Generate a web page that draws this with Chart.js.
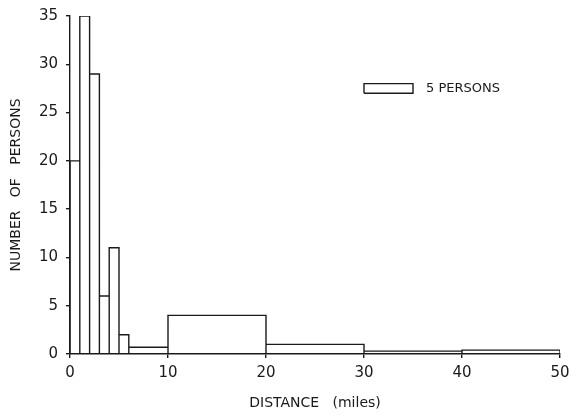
<!DOCTYPE html>
<html>
<head>
<meta charset="utf-8">
<script src="https://cdn.jsdelivr.net/npm/chart.js@4"></script>
<style>
  html, body { margin: 0; padding: 0; background: #fff; }
  #wrap { width: 571px; height: 416px; }
</style>
</head>
<body>
<div id="wrap"><canvas id="myChart"></canvas></div>
<script>
// bin edges (miles) and bar heights (persons per mile)
var binEdges = [0, 1, 2, 3, 4, 5, 6, 10, 20, 30, 40, 50];
var heights = [20, 35, 29, 6, 11, 2, 0.7, 4, 1, 0.3, 0.4];
var xTicks = [0, 10, 20, 30, 40, 50];
var yTicks = [0, 5, 10, 15, 20, 25, 30, 35];
// scale key: box 5 miles wide, 1 unit high
var keyX = [30, 35];
var keyY = [27, 28];
var keyLabel = '5 PERSONS';

var ink = '#1a1a1a';
var font = "'DejaVu Sans', sans-serif";

// outline of each bar as a run of points
var histPoints = [];
for (var i = 0; i < heights.length; i++) {
    var x0 = binEdges[i], x1 = binEdges[i + 1], h = heights[i];
    histPoints.push({x: x0, y: 0}, {x: x0, y: h}, {x: x1, y: h}, {x: x1, y: 0});
}
var keyPoints = [
    {x: keyX[0], y: keyY[0]}, {x: keyX[0], y: keyY[1]},
    {x: keyX[1], y: keyY[1]}, {x: keyX[1], y: keyY[0]},
    {x: keyX[0], y: keyY[0]}
];

var keyText = {
    id: 'keyText',
    afterDatasetsDraw: function(chart) {
        var c = chart.ctx;
        var xs = chart.scales.x, ys = chart.scales.y;
        c.save();
        c.fillStyle = ink;
        c.font = '13px ' + font;
        c.textBaseline = 'middle';
        c.fillText(keyLabel, xs.getPixelForValue(keyX[1]) + 13, ys.getPixelForValue((keyY[0] + keyY[1]) / 2));
        c.restore();
    }
};

document.addEventListener("DOMContentLoaded", function() {
    var ctx = document.getElementById('myChart').getContext('2d');
    new Chart(ctx, {
        type: 'line',
        data: {
            datasets: [{
                data: histPoints,
                borderColor: ink,
                borderWidth: 1.4,
                pointRadius: 0,
                tension: 0,
                fill: false
            }, {
                data: keyPoints,
                borderColor: ink,
                borderWidth: 1.4,
                pointRadius: 0,
                tension: 0,
                fill: false
            }]
        },
        options: {
            responsive: true,
            maintainAspectRatio: false,
            animation: false,
            layout: { padding: { top: 16, right: 11, left: 0, bottom: 0 } },
            plugins: { legend: { display: false }, tooltip: { enabled: false } },
            scales: {
                x: {
                    type: 'linear',
                    min: 0,
                    max: 50,
                    afterBuildTicks: function(s) { s.ticks = xTicks.map(function(v) { return {value: v}; }); },
                    afterFit: function(s) { s.height = 62; s.paddingLeft = 0; s.paddingRight = 0; },
                    grid: { drawOnChartArea: false, drawTicks: true, tickLength: 4, color: ink, lineWidth: 1.4 },
                    border: { display: true, color: ink, width: 1.4 },
                    ticks: { color: ink, font: { family: font, size: 15 }, padding: 6, maxRotation: 0 },
                    title: { display: true, text: 'DISTANCE   (miles)', color: ink, font: { family: font, size: 14 }, padding: { top: 6, bottom: 4 } }
                },
                y: {
                    type: 'linear',
                    min: 0,
                    max: 35,
                    afterBuildTicks: function(s) { s.ticks = yTicks.map(function(v) { return {value: v}; }); },
                    afterFit: function(s) { s.width = 70; s.paddingTop = 0; s.paddingBottom = 0; },
                    grid: { drawOnChartArea: false, drawTicks: true, tickLength: 4, color: ink, lineWidth: 1.4 },
                    border: { display: true, color: ink, width: 1.4 },
                    ticks: { color: ink, font: { family: font, size: 15 }, padding: 8 },
                    title: { display: true, text: 'NUMBER   OF   PERSONS', color: ink, font: { family: font, size: 14 }, padding: { top: 8, bottom: 4 } }
                }
            }
        },
        plugins: [keyText]
    });
});
</script>
</body>
</html>
